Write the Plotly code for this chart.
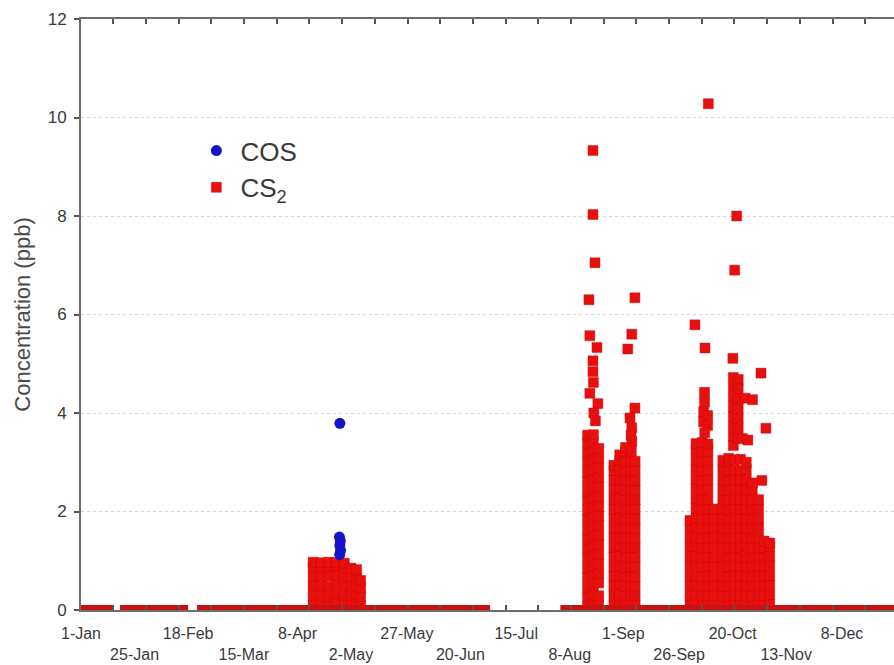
import plotly.graph_objects as go

# ---- axis labelling (day of year) ----
tick_days = [1, 25, 49, 74, 98, 122, 147, 171, 196, 220, 244, 269, 293, 317, 342]
tick_labels = ["1-Jan", "25-Jan", "18-Feb", "15-Mar", "8-Apr", "2-May", "27-May",
               "20-Jun", "15-Jul", "8-Aug", "1-Sep", "26-Sep", "20-Oct", "13-Nov", "8-Dec"]

# ---- CS2 near-zero background record: start / end day of each continuous run ----
base_start = [1.0, 18.5, 53.0, 215.8]
base_end = [15.3, 49.0, 184.3, 365.3]
base_level = 0.03

# ---- COS readings (day of year, ppb) ----
cos_day = [117.0, 116.8, 117.2, 117.0, 117.3, 116.9]
cos_ppb = [3.79, 1.48, 1.40, 1.31, 1.21, 1.12]

# ---- CS2 episode, April / May: sampling day and readings on that day ----
apr_days = [105.0, 108.5, 112.0, 115.5, 119.0, 122.0, 124.5, 126.3]
apr_ppb = [
    [0.10, 0.29, 0.49, 0.68, 0.87, 0.97],
    [0.12, 0.31, 0.50, 0.70, 0.89, 0.96],
    [0.09, 0.28, 0.48, 0.69, 0.88, 0.97],
    [0.13, 0.32, 0.52, 0.71, 0.90, 0.96],
    [0.11, 0.30, 0.49, 0.67, 0.86, 0.95],
    [0.10, 0.29, 0.50, 0.69, 0.85],
    [0.12, 0.31, 0.48, 0.66, 0.82],
    [0.09, 0.27, 0.45, 0.60],
]

# ---- CS2 episode, August / September ----
aug_days = [230.4, 231.3, 228.6, 229.0, 232.2, 230.6, 232.6, 230.8, 231.5,
            249.2, 247.8, 246.0, 247.0, 247.5,
            228.0, 230.6, 233.0, 239.8, 242.4, 245.0, 247.6, 249.3]
aug_ppb = [
    [9.33, 8.03, 5.06, 4.84],
    [7.05],
    [6.30],
    [5.57, 4.40],
    [5.33],
    [4.62],
    [4.19],
    [4.00],
    [3.84],
    [6.34, 4.10],
    [5.60, 3.70, 3.42],
    [5.30],
    [3.90],
    [3.55],
    [0.08, 0.27, 0.46, 0.66, 0.85, 1.05, 1.24, 1.44, 1.63, 1.83, 2.02, 2.22, 2.41, 2.61, 2.80, 3.00, 3.19, 3.39, 3.55],
    [0.11, 0.30, 0.50, 0.69, 0.89, 1.08, 1.28, 1.47, 1.67, 1.86, 2.06, 2.25, 2.45, 2.64, 2.84, 3.03, 3.23, 3.42, 3.56],
    [0.09, 0.29, 0.55, 0.74, 0.94, 1.13, 1.33, 1.52, 1.72, 1.91, 2.11, 2.30, 2.50, 2.69, 2.89, 3.08, 3.28],
    [0.10, 0.30, 0.49, 0.69, 0.88, 1.08, 1.27, 1.47, 1.66, 1.86, 2.05, 2.25, 2.44, 2.64, 2.83, 2.94],
    [0.12, 0.31, 0.51, 0.70, 0.90, 1.09, 1.29, 1.48, 1.68, 1.87, 2.07, 2.26, 2.46, 2.65, 2.85, 3.04, 3.15],
    [0.09, 0.28, 0.48, 0.67, 0.87, 1.06, 1.26, 1.45, 1.65, 1.84, 2.04, 2.23, 2.43, 2.62, 2.82, 3.01, 3.21, 3.30],
    [0.11, 0.30, 0.50, 0.69, 0.89, 1.08, 1.28, 1.47, 1.67, 1.86, 2.06, 2.25, 2.45, 2.64, 2.84, 3.03, 3.23],
    [0.10, 0.29, 0.49, 0.68, 0.88, 1.07, 1.27, 1.46, 1.66, 1.85, 2.05, 2.24, 2.44, 2.63, 2.83, 3.02],
]

# ---- CS2 episode, October ----
oct_days = [282.1, 294.8, 293.9, 276.1, 280.6, 293.1, 305.7, 307.9, 306.1,
            280.4, 280.0, 281.8, 280.5, 293.3, 295.5, 298.6, 301.9, 297.4, 299.8,
            273.9, 276.6, 279.3, 281.9, 284.5, 288.6, 291.2, 293.8, 296.5, 299.1,
            301.8, 304.6, 307.1, 309.6]
oct_ppb = [
    [10.28], [8.00], [6.90], [5.79], [5.32], [5.11], [4.81], [3.69], [2.63],
    [4.42, 4.22], [4.02, 3.82], [3.95, 3.75], [3.60],
    [4.72, 4.52, 4.32, 4.12, 3.92, 3.72, 3.52, 3.34],
    [4.68, 4.49, 4.29, 4.09, 3.89, 3.69, 3.49],
    [4.30], [4.27], [3.48], [3.45],
    [0.10, 0.29, 0.49, 0.68, 0.88, 1.07, 1.27, 1.46, 1.66, 1.82],
    [0.12, 0.31, 0.51, 0.70, 0.90, 1.09, 1.29, 1.48, 1.68, 1.87, 2.07, 2.26, 2.46, 2.65, 2.85, 3.04, 3.24, 3.38],
    [0.09, 0.28, 0.48, 0.67, 0.87, 1.06, 1.26, 1.45, 1.65, 1.84, 2.04, 2.23, 2.43, 2.62, 2.82, 3.01, 3.21, 3.40],
    [0.11, 0.30, 0.50, 0.69, 0.89, 1.08, 1.28, 1.47, 1.67, 1.86, 2.06, 2.25, 2.45, 2.64, 2.84, 3.03, 3.23, 3.37],
    [0.10, 0.29, 0.49, 0.68, 0.88, 1.07, 1.27, 1.46, 1.66, 1.85, 2.05],
    [0.12, 0.31, 0.51, 0.70, 0.90, 1.09, 1.29, 1.48, 1.68, 1.87, 2.07, 2.26, 2.46, 2.65, 2.85, 3.04],
    [0.09, 0.28, 0.48, 0.67, 0.87, 1.06, 1.26, 1.45, 1.65, 1.84, 2.04, 2.23, 2.43, 2.62, 2.82, 3.01, 3.08],
    [0.11, 0.30, 0.50, 0.69, 0.89, 1.08, 1.28, 1.47, 1.67, 1.86, 2.06, 2.25, 2.45, 2.64, 2.84, 3.05],
    [0.10, 0.29, 0.49, 0.68, 0.88, 1.07, 1.27, 1.46, 1.66, 1.85, 2.05, 2.24, 2.44, 2.63, 2.83, 3.06],
    [0.12, 0.31, 0.51, 0.70, 0.90, 1.09, 1.29, 1.48, 1.68, 1.87, 2.07, 2.26, 2.46, 2.65, 2.85, 3.00],
    [0.09, 0.28, 0.48, 0.67, 0.87, 1.06, 1.26, 1.45, 1.65, 1.84, 2.04, 2.23, 2.43, 2.58],
    [0.11, 0.30, 0.50, 0.69, 0.89, 1.08, 1.28, 1.47, 1.67, 1.86, 2.06, 2.24],
    [0.10, 0.29, 0.49, 0.68, 0.88, 1.07, 1.27, 1.40],
    [0.12, 0.31, 0.51, 0.70, 0.90, 1.09, 1.29, 1.36],
]


def flatten(days, readings):
    xs, ys = [], []
    for d, vals in zip(days, readings):
        for v in vals:
            xs.append(d)
            ys.append(v)
    return xs, ys


cs2_x, cs2_y = [], []
for days, readings in [(apr_days, apr_ppb), (aug_days, aug_ppb), (oct_days, oct_ppb)]:
    xs, ys = flatten(days, readings)
    cs2_x += xs
    cs2_y += ys

# background runs as one broken line
base_x, base_y = [], []
for s, e in zip(base_start, base_end):
    base_x += [s, e, None]
    base_y += [base_level, base_level, None]

RED = "#e8100f"
BLUE = "#1414c8"
TEXT = "#3a3a3a"
AXIS = "#6e6e6e"
FONT = "Liberation Sans, Arial, sans-serif"
X_RANGE = [1, 365.3]

fig = go.Figure()

fig.add_trace(go.Scatter(
    x=cs2_x, y=cs2_y, mode="markers", name="CS<sub>2</sub>", legendrank=2,
    marker=dict(symbol="square", size=10, color=RED, line=dict(color="#c80000", width=0.4)),
))

fig.add_trace(go.Scatter(
    x=cos_day, y=cos_ppb, mode="markers", name="COS", legendrank=1,
    marker=dict(symbol="circle", size=11, color=BLUE, line=dict(width=0)),
))

# near-zero record on the tick-carrying overlay axis
fig.add_trace(go.Scatter(
    x=base_x, y=base_y, mode="lines", xaxis="x2",
    line=dict(color="#c81212", width=7),
    showlegend=False, hoverinfo="skip",
))

row_text = [lbl if i % 2 == 0 else "<br>" + lbl for i, lbl in enumerate(tick_labels)]

fig.update_layout(
    width=894, height=665,
    margin=dict(l=81, r=0, t=19, b=55),
    paper_bgcolor="white", plot_bgcolor="white",
    font=dict(family=FONT, color=TEXT),
    showlegend=True,
    legend=dict(
        x=0.137, y=0.817, xanchor="left", yanchor="top",
        font=dict(size=26, color=TEXT, family=FONT),
        bgcolor="rgba(0,0,0,0)", traceorder="normal",
        itemwidth=38, tracegroupgap=0,
    ),
    xaxis=dict(
        range=X_RANGE,
        tickmode="array", tickvals=tick_days, ticktext=row_text,
        ticks="", showgrid=False, zeroline=False, showline=False,
        tickfont=dict(size=16, color=TEXT),
        ticklabelstandoff=12,
    ),
    xaxis2=dict(
        range=X_RANGE, overlaying="x", matches="x", side="bottom",
        tickmode="linear", tick0=15.47, dtick=14.65,
        ticks="inside", ticklen=5, tickcolor="#555555", tickwidth=1.5,
        showticklabels=False, showgrid=False, zeroline=False,
        showline=True, linecolor=AXIS, linewidth=2, mirror="ticks",
    ),
    yaxis=dict(
        range=[0, 12],
        tickmode="array", tickvals=[0, 2, 4, 6, 8, 10, 12],
        ticks="outside", ticklen=5, tickcolor="#555555", tickwidth=1.5,
        showgrid=True, gridcolor="#d4d4d4", griddash="dot", gridwidth=1,
        zeroline=False,
        showline=True, linecolor=AXIS, linewidth=2,
        tickfont=dict(size=17, color=TEXT),
        ticklabelstandoff=4,
        title=dict(text="Concentration (ppb)", font=dict(size=22, color="#4a4a4a"), standoff=11),
    ),
)

fig.write_html("out.html")
